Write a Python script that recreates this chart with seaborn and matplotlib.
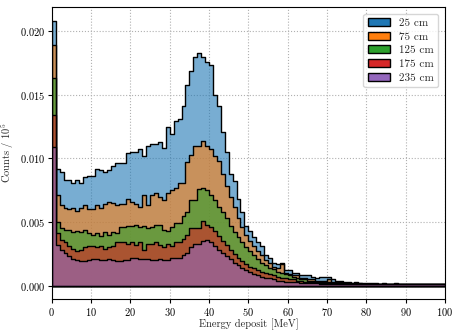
import numpy as np
import pandas as pd
import matplotlib
matplotlib.use("Agg")
import matplotlib.pyplot as plt
import seaborn as sns
from matplotlib.colors import to_rgba
from matplotlib.patches import Patch

# 1 MeV bins from 0 to 100 MeV
bin_edges = np.arange(0, 101, 1)

labels = ["25 cm", "75 cm", "125 cm", "175 cm", "235 cm"]
colors = ["#1f77b4", "#ff7f0e", "#2ca02c", "#d62728", "#9467bd"]

counts_25 = [
    0.0208, 0.0092, 0.0089, 0.0083, 0.0083, 0.0081, 0.0083, 0.0081, 0.0085, 0.0086,
    0.0086, 0.0092, 0.0091, 0.0089, 0.0091, 0.0094, 0.0096, 0.0096, 0.0096, 0.0104,
    0.0105, 0.0105, 0.0107, 0.0102, 0.0110, 0.0111, 0.0111, 0.0113, 0.0108, 0.0125,
    0.0119, 0.0129, 0.0131, 0.0141, 0.0158, 0.0169, 0.0180, 0.0183, 0.0180, 0.0176,
    0.0173, 0.0150, 0.0141, 0.0121, 0.0105, 0.0088, 0.0082, 0.0068, 0.0058, 0.0047,
    0.0043, 0.0038, 0.0034, 0.0031, 0.0024, 0.0022, 0.0018, 0.0017, 0.0018, 0.0012,
    0.0012, 0.0010, 0.0010, 0.0008, 0.0008, 0.0008, 0.0007, 0.0006, 0.0007, 0.0007,
    0.0007, 0.0005, 0.0004, 0.0004, 0.0003, 0.0003, 0.0002, 0.0003, 0.0002, 0.0002,
    0.0002, 0.0002, 0.0002, 0.0001, 0.0002, 0.0001, 0.0001, 0.0002, 0.0001, 0.0001,
    0.0001, 0.0001, 0.0001, 0.0001, 0.0001, 0.0001, 0.0001, 0.0001, 0.0001, 0.0001,
]
counts_75 = [
    0.0189, 0.0071, 0.0063, 0.0061, 0.0060, 0.0061, 0.0059, 0.0061, 0.0063, 0.0060,
    0.0060, 0.0063, 0.0061, 0.0064, 0.0066, 0.0065, 0.0063, 0.0064, 0.0064, 0.0068,
    0.0066, 0.0064, 0.0062, 0.0071, 0.0063, 0.0071, 0.0073, 0.0070, 0.0067, 0.0073,
    0.0075, 0.0077, 0.0081, 0.0081, 0.0097, 0.0103, 0.0110, 0.0110, 0.0114, 0.0110,
    0.0107, 0.0102, 0.0098, 0.0088, 0.0078, 0.0070, 0.0062, 0.0053, 0.0046, 0.0040,
    0.0035, 0.0031, 0.0027, 0.0024, 0.0020, 0.0018, 0.0015, 0.0014, 0.0017, 0.0010,
    0.0009, 0.0008, 0.0008, 0.0006, 0.0006, 0.0005, 0.0005, 0.0004, 0.0004, 0.0004,
    0.0005, 0.0003, 0.0003, 0.0003, 0.0002, 0.0002, 0.0002, 0.0002, 0.0002, 0.0001,
    0.0001, 0.0001, 0.0001, 0.0001, 0.0001, 0.0001, 0.0001, 0.0001, 0.0001, 0.0001,
    0.0001, 0.0001, 0.0001, 0.0001, 0.0001, 0.0001, 0.0001, 0.0001, 0.0001, 0.0001,
]
counts_125 = [
    0.0163, 0.0050, 0.0045, 0.0044, 0.0044, 0.0042, 0.0043, 0.0042, 0.0044, 0.0041,
    0.0040, 0.0041, 0.0039, 0.0042, 0.0040, 0.0042, 0.0041, 0.0046, 0.0046, 0.0047,
    0.0047, 0.0048, 0.0046, 0.0047, 0.0045, 0.0046, 0.0048, 0.0048, 0.0044, 0.0043,
    0.0046, 0.0049, 0.0049, 0.0055, 0.0058, 0.0067, 0.0067, 0.0076, 0.0077, 0.0075,
    0.0071, 0.0067, 0.0062, 0.0058, 0.0053, 0.0047, 0.0042, 0.0038, 0.0034, 0.0030,
    0.0027, 0.0024, 0.0021, 0.0018, 0.0016, 0.0014, 0.0013, 0.0011, 0.0010, 0.0009,
    0.0008, 0.0007, 0.0006, 0.0005, 0.0005, 0.0004, 0.0004, 0.0003, 0.0003, 0.0003,
    0.0003, 0.0002, 0.0002, 0.0002, 0.0002, 0.0001, 0.0001, 0.0001, 0.0001, 0.0001,
    0.0001, 0.0001, 0.0001, 0.0001, 0.0001, 0.0001, 0.0001, 0.0001, 0.0001, 0.0001,
    0.0001, 0.0001, 0.0001, 0.0001, 0.0001, 0.0001, 0.0001, 0.0001, 0.0001, 0.0001,
]
counts_175 = [
    0.0134, 0.0041, 0.0036, 0.0034, 0.0031, 0.0029, 0.0027, 0.0028, 0.0030, 0.0031,
    0.0031, 0.0030, 0.0031, 0.0029, 0.0030, 0.0031, 0.0034, 0.0034, 0.0034, 0.0033,
    0.0034, 0.0032, 0.0034, 0.0028, 0.0033, 0.0033, 0.0034, 0.0032, 0.0030, 0.0033,
    0.0031, 0.0034, 0.0034, 0.0037, 0.0040, 0.0045, 0.0045, 0.0045, 0.0051, 0.0048,
    0.0046, 0.0043, 0.0039, 0.0035, 0.0032, 0.0028, 0.0025, 0.0022, 0.0019, 0.0017,
    0.0015, 0.0014, 0.0012, 0.0011, 0.0010, 0.0009, 0.0008, 0.0007, 0.0006, 0.0006,
    0.0005, 0.0005, 0.0004, 0.0004, 0.0003, 0.0003, 0.0003, 0.0003, 0.0002, 0.0002,
    0.0002, 0.0002, 0.0002, 0.0001, 0.0001, 0.0001, 0.0001, 0.0001, 0.0001, 0.0001,
    0.0001, 0.0001, 0.0001, 0.0001, 0.0001, 0.0001, 0.0001, 0.0001, 0.0001, 0.0001,
    0.0001, 0.0001, 0.0001, 0.0001, 0.0001, 0.0001, 0.0001, 0.0001, 0.0001, 0.0001,
]
counts_235 = [
    0.0109, 0.0032, 0.0028, 0.0026, 0.0023, 0.0021, 0.0020, 0.0019, 0.0019, 0.0020,
    0.0021, 0.0021, 0.0020, 0.0020, 0.0021, 0.0020, 0.0019, 0.0019, 0.0020, 0.0020,
    0.0022, 0.0022, 0.0021, 0.0021, 0.0021, 0.0020, 0.0020, 0.0021, 0.0020, 0.0020,
    0.0022, 0.0022, 0.0022, 0.0024, 0.0026, 0.0030, 0.0033, 0.0033, 0.0035, 0.0036,
    0.0034, 0.0031, 0.0028, 0.0026, 0.0023, 0.0021, 0.0018, 0.0016, 0.0014, 0.0012,
    0.0011, 0.0009, 0.0008, 0.0007, 0.0006, 0.0006, 0.0005, 0.0004, 0.0004, 0.0003,
    0.0003, 0.0003, 0.0003, 0.0002, 0.0002, 0.0002, 0.0002, 0.0002, 0.0001, 0.0001,
    0.0001, 0.0001, 0.0001, 0.0001, 0.0001, 0.0001, 0.0001, 0.0001, 0.0001, 0.0001,
    0.0001, 0.0001, 0.0001, 0.0001, 0.0001, 0.0001, 0.0001, 0.0001, 0.0001, 0.0001,
    0.0001, 0.0001, 0.0001, 0.0001, 0.0001, 0.0001, 0.0001, 0.0001, 0.0001, 0.0001,
]
series = [counts_25, counts_75, counts_125, counts_175, counts_235]

sns.set_style("ticks")
plt.rcParams.update({
    "font.family": "serif",
    "font.serif": ["cmr10"],
    "mathtext.fontset": "cm",
    "axes.formatter.use_mathtext": True,
    "font.size": 7.5,
    "axes.linewidth": 0.8,
    "axes.edgecolor": "black",
    "xtick.color": "black",
    "ytick.color": "black",
    "xtick.direction": "out",
    "ytick.direction": "out",
})

fig = plt.figure(figsize=(4.54, 3.31), dpi=100)
ax = fig.add_axes([0.114, 0.097, 0.866, 0.882])

centers = 0.5 * (bin_edges[:-1] + bin_edges[1:])
for label, color, counts in zip(labels, colors, series):
    df = pd.DataFrame({"energy": centers, "counts": counts})
    sns.histplot(
        data=df, x="energy", weights="counts",
        binwidth=1, binrange=(bin_edges[0], bin_edges[-1]),
        element="step", fill=True,
        facecolor=to_rgba(color, 0.6), edgecolor="black", linewidth=1.0, ax=ax,
    )

ax.set_xlim(0, 100)
ax.set_ylim(-0.00104, 0.0219)
ax.set_xticks(np.arange(0, 101, 10))
ax.set_yticks([0.0, 0.005, 0.010, 0.015, 0.020])
ax.grid(True, color="#b0b0b0", linestyle=":", linewidth=0.8)
ax.set_xlabel("Energy deposit [MeV]", fontsize=7.5, labelpad=0.5)
ax.set_ylabel("Counts / $10^5$", fontsize=7.5, labelpad=2.5)
ax.tick_params(labelsize=7.5, width=0.8, length=3, pad=2)

handles = [Patch(facecolor=c, edgecolor="black", label=l) for l, c in zip(labels, colors)]
ax.legend(handles=handles, loc="upper right", fontsize=8, frameon=True,
          fancybox=True, framealpha=0.8, edgecolor="#cccccc",
          labelspacing=0.35, borderaxespad=0.6)

fig.savefig("out.png", dpi=100)
